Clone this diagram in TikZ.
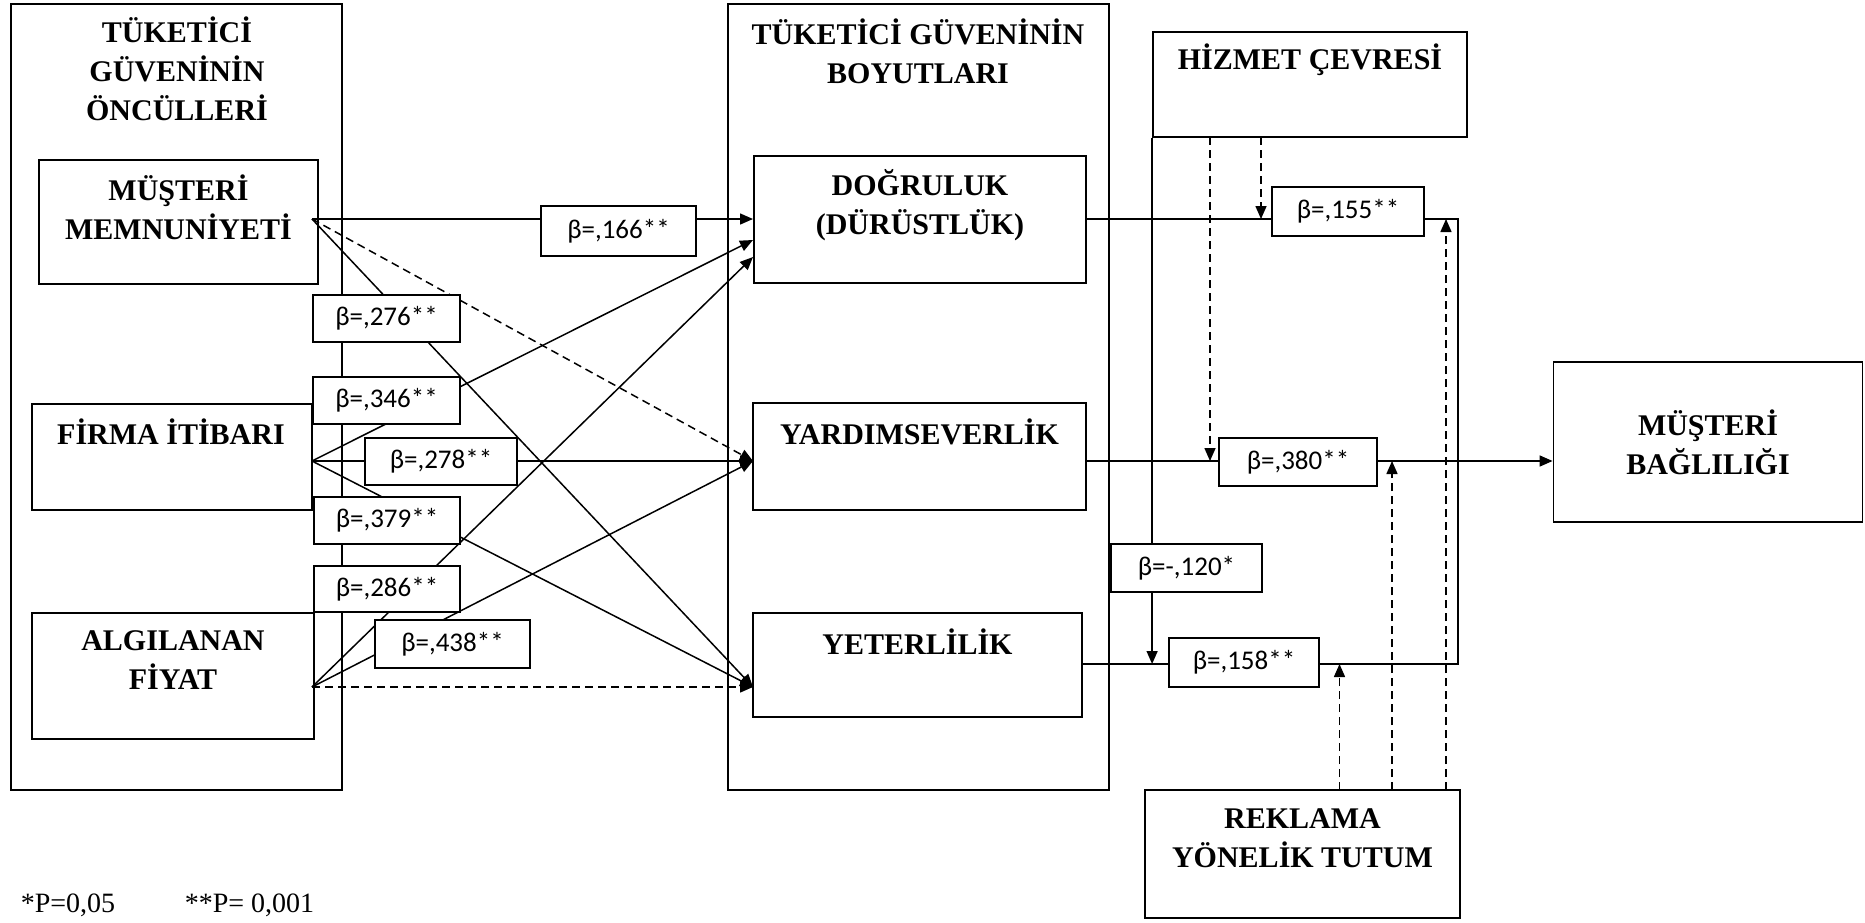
\documentclass[tikz,border=0pt]{standalone}
\usepackage{fontspec}
\setmainfont{Liberation Serif}
\newfontfamily\betafont{Carlito}
\usetikzlibrary{arrows.meta,backgrounds}

\tikzset{
  box/.style={draw, line width=0.9pt, inner sep=0pt},
  lbl/.style={font=\bfseries\fontsize{15}{19.5}\selectfont, align=center, inner sep=0pt},
  beta/.style={draw, fill=white, line width=0.9pt, inner sep=0pt,
    font=\betafont\fontsize{13.5}{16}\selectfont},
  con/.style={line width=0.75pt},
  arr/.style={-{Triangle[length=6.5pt,width=5.5pt]}},
  dsh/.style={dash pattern=on 4pt off 2.5pt},
}

\begin{document}
\begin{tikzpicture}[x=0.5pt,y=-0.5pt]
  \useasboundingbox (0,0) rectangle (1865,922);

  % frames
  \node[box, minimum width=165.5pt, minimum height=393pt] (onc) at (176.5,397) {};
  \node[box, minimum width=190.5pt, minimum height=393pt] (boy) at (918.5,397) {};

  \node[box, minimum width=139.5pt, minimum height=62pt]   (mm) at (178.5,222) {};
  \node[box, minimum width=140.25pt, minimum height=53pt]  (fi) at (172,457) {};
  \node[box, minimum width=141.25pt, minimum height=63pt]  (af) at (173,676) {};
  \node[box, minimum width=166pt, minimum height=63.5pt]   (dg) at (920,219.5) {};
  \node[box, minimum width=166.5pt, minimum height=53.5pt] (ys) at (919.5,456.5) {};
  \node[box, minimum width=164.5pt, minimum height=52pt]   (yt) at (917.5,665) {};
  \node[box, minimum width=157pt, minimum height=52.5pt]   (hc) at (1310,84.5) {};
  \node[box, minimum width=154.5pt, minimum height=80pt]   (mb) at (1708,442) {};
  \node[box, minimum width=157.5pt, minimum height=64pt]   (rk) at (1302.5,854) {};

  \node[lbl] (oncT) at (177,69)      {TÜKETİCİ\\GÜVENİNİN\\ÖNCÜLLERİ};
  \node[lbl] (boyT) at (918,51)      {TÜKETİCİ GÜVENİNİN\\BOYUTLARI};
  \node[lbl] (mmT)  at (178.5,207.5) {MÜŞTERİ\\MEMNUNİYETİ};
  \node[lbl] (fiT)  at (171,432)     {FİRMA İTİBARI};
  \node[lbl] (afT)  at (173,660)     {ALGILANAN\\FİYAT};
  \node[lbl] (dgT)  at (920,205)     {DOĞRULUK\\(DÜRÜSTLÜK)};
  \node[lbl] (ysT)  at (919.5,432)   {YARDIMSEVERLİK};
  \node[lbl] (ytT)  at (917.5,642)   {YETERLİLİK};
  \node[lbl] (hcT)  at (1310,60)     {HİZMET ÇEVRESİ};
  \node[lbl] (mbT)  at (1708,442.5)  {MÜŞTERİ\\BAĞLILIĞI};
  \node[lbl] (rkT)  at (1302.5,838)  {REKLAMA\\YÖNELİK TUTUM};

  % coefficients
  \node[beta, minimum width=77.5pt, minimum height=25pt]   (b166) at (618.5,231) {β=,166**};
  \node[beta, minimum width=73.5pt, minimum height=23.5pt] (b276) at (386.5,318.5) {β=,276**};
  \node[beta, minimum width=73.5pt, minimum height=23.5pt] (b346) at (386.5,400.5) {β=,346**};
  \node[beta, minimum width=76pt, minimum height=23.5pt]   (b278) at (441,461.5) {β=,278**};
  \node[beta, minimum width=73pt, minimum height=23.5pt]   (b379) at (387,520.5) {β=,379**};
  \node[beta, minimum width=73pt, minimum height=23pt]     (b286) at (387,589) {β=,286**};
  \node[beta, minimum width=77.5pt, minimum height=24pt]   (b438) at (452.5,644) {β=,438**};
  \node[beta, minimum width=76pt, minimum height=24.5pt]   (b155) at (1348,211.5) {β=,155**};
  \node[beta, minimum width=79pt, minimum height=24pt]     (b380) at (1298,462) {β=,380**};
  \node[beta, minimum width=75.5pt, minimum height=24pt]   (b120) at (1186.5,568) {β=-,120*};
  \node[beta, minimum width=75pt, minimum height=24.5pt]   (b158) at (1244,662.5) {β=,158**};

  \coordinate (mmA) at (312,219);
  \coordinate (fiA) at (312,461);
  \coordinate (afA) at (312,687);
  \coordinate (dg1) at (753,219);
  \coordinate (dg2) at (753,240);
  \coordinate (dg3) at (753,257);
  \coordinate (ysI) at (753,461);
  \coordinate (ytI) at (753,687);
  \coordinate (ysO) at (1086,461);
  \coordinate (ytO) at (1082,664);
  \coordinate (jn)  at (1458,219);
  \coordinate (hc1) at (1210,137);
  \coordinate (hc2) at (1261,137);
  \coordinate (rk1) at (1339.5,790);
  \coordinate (rk2) at (1392,790);
  \coordinate (rk3) at (1446,790);

  \begin{pgfonlayer}{background}
    \draw[con,arr]     (mmA) -- (dg1);
    \draw[con,arr,dsh] (mmA) -- (ysI);
    \draw[con,arr]     (mmA) -- (ytI);
    \draw[con,arr]     (fiA) -- (dg2);
    \draw[con,arr]     (fiA) -- (ysI);
    \draw[con,arr]     (fiA) -- (ytI);
    \draw[con,arr]     (afA) -- (dg3);
    \draw[con,arr]     (afA) -- (ysI);
    \draw[con,arr,dsh] (afA) -- (ytI);

    \draw[con] (jn -| dg.east) -- (jn -| b155.west);
    \draw[con] (ysO) -- (ysO -| b380.west);
    \draw[con] (ytO) -- (ytO -| b158.west);
    \draw[con] (ytO -| b158.east) -- (ytO -| jn) -- (jn) -- (jn -| b155.east);
    \draw[con,arr] (ysO -| b380.east) -- (ysO -| mb.west);
    \draw[con,arr] (hc.south west) -- (hc.south west |- ytO);

    \draw[con,arr,dsh] (hc1) -- (hc1 |- ysO);
    \draw[con,arr,dsh] (hc2) -- (hc2 |- jn);
    \draw[con,arr,dsh] (rk1) -- (rk1 |- ytO);
    \draw[con,arr,dsh] (rk2) -- (rk2 |- ysO);
    \draw[con,arr,dsh] (rk3) -- (rk3 |- jn);
  \end{pgfonlayer}

  \node[font=\fontsize{14}{16}\selectfont, inner sep=0pt] (p1) at (68,905)    {*P=0,05};
  \node[font=\fontsize{14}{16}\selectfont, inner sep=0pt] (p2) at (249.5,905) {**P= 0,001};

\end{tikzpicture}
\end{document}
